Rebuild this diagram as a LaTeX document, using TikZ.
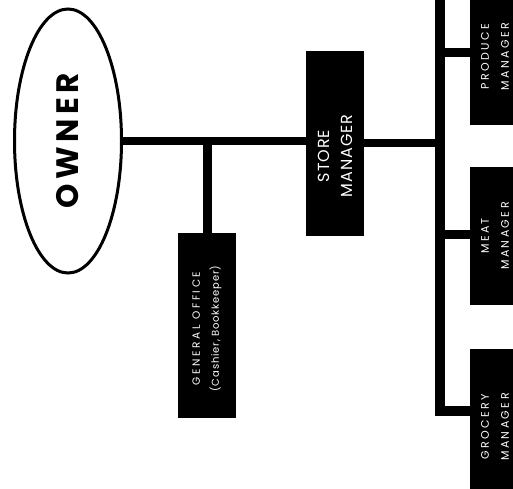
\documentclass[tikz,border=0pt]{standalone}
\usepackage{fontspec}
\usetikzlibrary{shapes.geometric}
\newfontfamily\ownerfont{Poppins}[LetterSpace=15]
\newfontfamily\bigboxfont{Poppins}[LetterSpace=6]
\newfontfamily\smallboxfont{Poppins}[LetterSpace=22]
\newfontfamily\officefont{Poppins}[LetterSpace=25]
\newfontfamily\officesubfont{Poppins}[LetterSpace=8]
% pad at the line end, moving a centred line towards the box's lower edge
\newcommand\lowerby[1]{\hspace*{#1}}
\begin{document}
\begin{tikzpicture}[x=1pt,y=-1pt,
  post/.style={fill=black, draw=none, text=white, inner sep=0pt, rotate=90, align=center},
  bigpost/.style={post, minimum width=185pt, minimum height=58pt},
  deptpost/.style={post, minimum height=50pt, font=\fontsize{11}{20}\selectfont\smallboxfont},
  headoval/.style={ellipse, draw=black, line width=3pt, fill=white, inner sep=0pt, rotate=90,
    minimum width=264pt, minimum height=107pt, font=\fontsize{31}{31}\selectfont\ownerfont\bfseries},
  trunk/.style={line width=8pt, line cap=butt, line join=miter},
  bus/.style={line width=10pt, line cap=butt, line join=miter},
  twig/.style={line width=9pt, line cap=butt}]
\useasboundingbox (0,0) rectangle (513,488);
\clip (0,0) rectangle (513,488);

% owner
\node[headoval] (owner) at (68,141) {OWNER};

% store manager and general office
\node[bigpost, font=\fontsize{16}{23}\selectfont\bigboxfont] (store) at (335,143)
  {STORE\lowerby{26pt}\\MANAGER\lowerby{26pt}};
\node[bigpost, font=\fontsize{10.5}{19}\selectfont\officefont] (office) at (207,325.5)
  {GENERAL OFFICE\lowerby{6pt}\\\fontsize{10}{19}\selectfont\officesubfont(Cashier, Bookkeeper)\lowerby{6pt}};

% department managers
\node[deptpost, minimum width=145pt] (produce) at (495,52.5) {PRODUCE\lowerby{8pt}\\MANAGER\lowerby{8pt}};
\node[deptpost, minimum width=138pt] (meat) at (495,236) {MEAT\\MANAGER};
\node[deptpost, minimum width=140pt] (grocery) at (495,419) {GROCERY\lowerby{16pt}\\MANAGER\lowerby{16pt}};

% bus points
\coordinate (bustop) at (440,-10);
\coordinate (busend) at (440,411);
\coordinate (pb) at (440,52);
\coordinate (mb) at (440,234);

% connectors
\draw[trunk] (owner.south) -- (owner.south -| store.north);
\draw[twig] (office.east) -- (office.east |- owner.south);
\draw[trunk] (store.south) -- (store.south -| bustop);
\draw[bus] (bustop) -- (busend) -- (busend -| grocery.north);
\draw[twig] (pb) -- (pb -| produce.north);
\draw[twig] (mb) -- (mb -| meat.north);
\end{tikzpicture}
\end{document}
